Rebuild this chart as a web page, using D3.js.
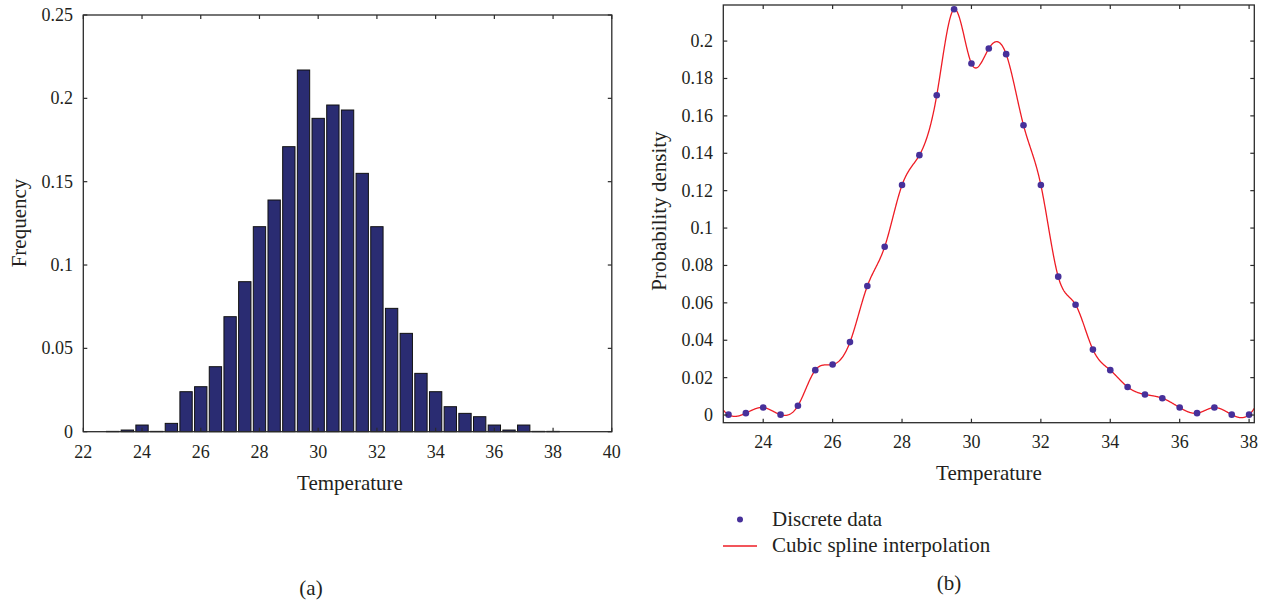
<!DOCTYPE html>
<html lang="en">
<head>
    <meta charset="UTF-8">
    <title>Temperature distribution</title>
    <script src="https://d3js.org/d3.v7.min.js"></script>
    <style>
        body {
            margin: 0;
            padding: 0;
            background: #fff;
        }
        svg text {
            font-family: "Liberation Serif", "Times New Roman", serif;
            fill: #231f20;
        }
        .tick-label { font-size: 18px; }
        .title { font-size: 21px; }
    </style>
</head>
<body>
    <div id="chart"></div>
    <script>
        // Temperature bins (bar centres / sample points)
        const temps = [23, 23.5, 24, 24.5, 25, 25.5, 26, 26.5, 27, 27.5, 28, 28.5, 29, 29.5, 30,
                       30.5, 31, 31.5, 32, 32.5, 33, 33.5, 34, 34.5, 35, 35.5, 36, 36.5, 37, 37.5, 38];
        // Frequency of each bin (same values are the discrete density data)
        const freq = [0.0002, 0.001, 0.004, 0.0002, 0.005, 0.024, 0.027, 0.039, 0.069, 0.090, 0.123,
                      0.139, 0.171, 0.217, 0.188, 0.196, 0.193, 0.155, 0.123, 0.074, 0.059, 0.035,
                      0.024, 0.015, 0.011, 0.009, 0.004, 0.001, 0.004, 0.0002, 0.0002];

        const xTicksA = d3.range(22, 41, 2);
        const yTicksA = [0, 0.05, 0.1, 0.15, 0.2, 0.25];
        const xTicksB = d3.range(24, 39, 2);
        const yTicksB = d3.range(0, 0.201, 0.02).map(d => +d.toFixed(2));

        const width = 1269, height = 603;
        const svg = d3.select("#chart").append("svg")
            .attr("width", width)
            .attr("height", height);

        const axisColor = "#2b2b2b";
        const fmt = d => String(+d.toFixed(2));

        // draw a boxed frame with inward ticks on all sides
        function frame(g, x, y, xt, yt) {
            const [x0, x1] = x.range();
            const [y0, y1] = y.range();
            const tl = 4;
            g.append("rect")
                .attr("x", x0).attr("y", y1)
                .attr("width", x1 - x0).attr("height", y0 - y1)
                .attr("fill", "none")
                .attr("stroke", axisColor)
                .attr("stroke-width", 1.3);
            xt.forEach(t => {
                const px = x(t);
                g.append("line").attr("x1", px).attr("x2", px).attr("y1", y0).attr("y2", y0 - tl)
                    .attr("stroke", axisColor).attr("stroke-width", 1.2);
                g.append("line").attr("x1", px).attr("x2", px).attr("y1", y1).attr("y2", y1 + tl)
                    .attr("stroke", axisColor).attr("stroke-width", 1.2);
            });
            yt.forEach(t => {
                const py = y(t);
                g.append("line").attr("x1", x0).attr("x2", x0 + tl).attr("y1", py).attr("y2", py)
                    .attr("stroke", axisColor).attr("stroke-width", 1.2);
                g.append("line").attr("x1", x1).attr("x2", x1 - tl).attr("y1", py).attr("y2", py)
                    .attr("stroke", axisColor).attr("stroke-width", 1.2);
            });
        }

        // ---------- (a) histogram ----------
        const xA = d3.scaleLinear().domain([22, 40]).range([83.3, 611.8]);
        const yA = d3.scaleLinear().domain([0, 0.25]).range([431.7, 15]);
        const gA = svg.append("g");
        const barW = (xA(0.5) - xA(0)) * 0.84;

        gA.selectAll(".bar")
            .data(temps.map((t, i) => ({ t, v: freq[i] })))
            .join("rect")
            .attr("class", "bar")
            .attr("x", d => xA(d.t) - barW / 2)
            .attr("y", d => yA(d.v))
            .attr("width", barW)
            .attr("height", d => yA(0) - yA(d.v))
            .attr("fill", "#2a2c72")
            .attr("stroke", "#111")
            .attr("stroke-width", 1);

        frame(gA, xA, yA, xTicksA, yTicksA);

        gA.selectAll(".xl").data(xTicksA).join("text")
            .attr("class", "tick-label")
            .attr("x", d => xA(d)).attr("y", 458)
            .attr("text-anchor", "middle")
            .text(d => d);
        gA.selectAll(".yl").data(yTicksA).join("text")
            .attr("class", "tick-label")
            .attr("x", 73).attr("y", d => yA(d) + 6)
            .attr("text-anchor", "end")
            .text(fmt);
        gA.append("text").attr("class", "title")
            .attr("x", 350).attr("y", 490)
            .attr("text-anchor", "middle")
            .text("Temperature");
        gA.append("text").attr("class", "title")
            .attr("transform", "translate(26,223) rotate(-90)")
            .attr("text-anchor", "middle")
            .text("Frequency");
        gA.append("text").attr("class", "title")
            .attr("x", 311).attr("y", 595)
            .attr("text-anchor", "middle")
            .text("(a)");

        // ---------- (b) density with cubic spline ----------
        const xB = d3.scaleLinear().domain([22.85, 38.15]).range([723.3, 1254.3]);
        const yB = d3.scaleLinear().domain([-0.0041, 0.2193]).range([422.7, 5]);
        const gB = svg.append("g");

        // not-a-knot cubic spline through the discrete data
        function spline(xs, ys) {
            const n = xs.length, h = xs[1] - xs[0];
            const A = d3.range(n).map(() => new Array(n + 1).fill(0));
            A[0][0] = 1; A[0][1] = -2; A[0][2] = 1;
            for (let i = 1; i < n - 1; i++) {
                A[i][i - 1] = 1; A[i][i] = 4; A[i][i + 1] = 1;
                A[i][n] = 6 / (h * h) * (ys[i - 1] - 2 * ys[i] + ys[i + 1]);
            }
            A[n - 1][n - 3] = 1; A[n - 1][n - 2] = -2; A[n - 1][n - 1] = 1;
            for (let c = 0; c < n; c++) {
                let p = c;
                for (let r = c + 1; r < n; r++) if (Math.abs(A[r][c]) > Math.abs(A[p][c])) p = r;
                [A[c], A[p]] = [A[p], A[c]];
                for (let r = 0; r < n; r++) {
                    if (r === c) continue;
                    const f = A[r][c] / A[c][c];
                    for (let k = c; k <= n; k++) A[r][k] -= f * A[c][k];
                }
            }
            const M = A.map((row, i) => row[n] / row[i]);
            return x => {
                let i = Math.floor((x - xs[0]) / h);
                i = Math.max(0, Math.min(n - 2, i));
                const t = x - xs[i];
                const b = (ys[i + 1] - ys[i]) / h - h * (2 * M[i] + M[i + 1]) / 6;
                return ys[i] + b * t + M[i] / 2 * t * t + (M[i + 1] - M[i]) / (6 * h) * t * t * t;
            };
        }
        const s = spline(temps, freq);
        const curveX = d3.range(xB.domain()[0], xB.domain()[1] + 0.001, 0.01);

        gB.append("clipPath").attr("id", "clipB")
            .append("rect")
            .attr("x", xB.range()[0]).attr("y", yB.range()[1])
            .attr("width", xB.range()[1] - xB.range()[0])
            .attr("height", yB.range()[0] - yB.range()[1]);

        gB.append("path")
            .datum(curveX)
            .attr("clip-path", "url(#clipB)")
            .attr("fill", "none")
            .attr("stroke", "#ee1c25")
            .attr("stroke-width", 1.3)
            .attr("d", d3.line().x(d => xB(d)).y(d => yB(s(d))));

        gB.selectAll(".pt")
            .data(temps.map((t, i) => ({ t, v: freq[i] })))
            .join("circle")
            .attr("class", "pt")
            .attr("cx", d => xB(d.t))
            .attr("cy", d => yB(d.v))
            .attr("r", 3.3)
            .attr("fill", "#47309a");

        frame(gB, xB, yB, xTicksB, yTicksB);

        gB.selectAll(".xl").data(xTicksB).join("text")
            .attr("class", "tick-label")
            .attr("x", d => xB(d)).attr("y", 448)
            .attr("text-anchor", "middle")
            .text(d => d);
        gB.selectAll(".yl").data(yTicksB).join("text")
            .attr("class", "tick-label")
            .attr("x", 713).attr("y", d => yB(d) + 6)
            .attr("text-anchor", "end")
            .text(fmt);
        gB.append("text").attr("class", "title")
            .attr("x", 989).attr("y", 480)
            .attr("text-anchor", "middle")
            .text("Temperature");
        gB.append("text").attr("class", "title")
            .attr("transform", "translate(666,211) rotate(-90)")
            .attr("text-anchor", "middle")
            .text("Probability density");

        // legend
        const lg = gB.append("g");
        lg.append("circle").attr("cx", 740).attr("cy", 519.5).attr("r", 3)
            .attr("fill", "#47309a");
        lg.append("text").attr("class", "title").attr("x", 772).attr("y", 526)
            .text("Discrete data");
        lg.append("line").attr("x1", 723).attr("x2", 757).attr("y1", 546).attr("y2", 546)
            .attr("stroke", "#ee1c25").attr("stroke-width", 1.3);
        lg.append("text").attr("class", "title").attr("x", 772).attr("y", 552)
            .text("Cubic spline interpolation");

        gB.append("text").attr("class", "title")
            .attr("x", 949).attr("y", 590)
            .attr("text-anchor", "middle")
            .text("(b)");
    </script>
</body>
</html>
